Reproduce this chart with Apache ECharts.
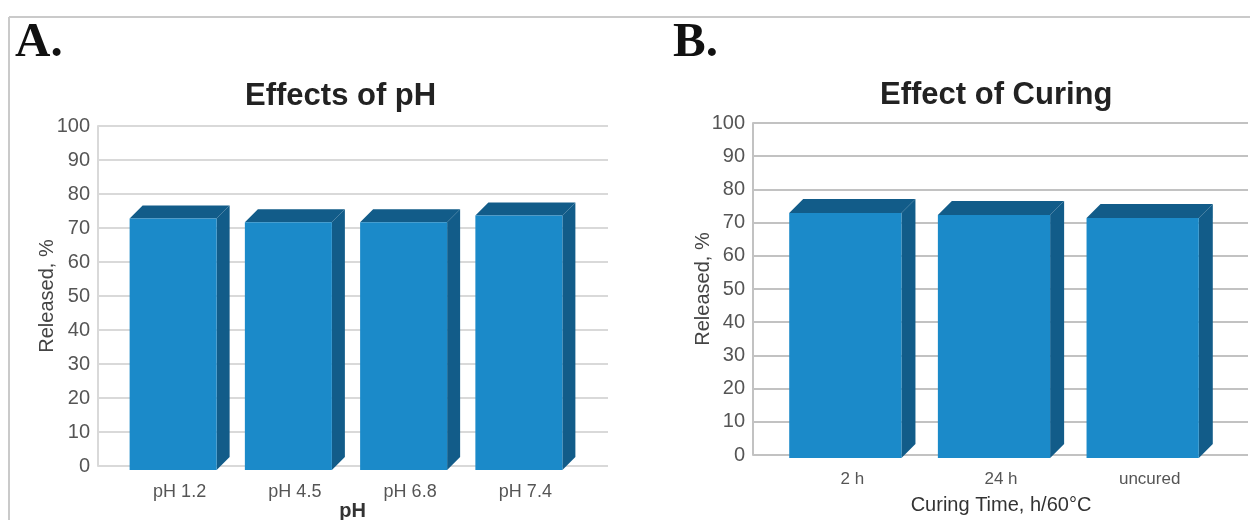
<!DOCTYPE html>
<html>
<head>
<meta charset="utf-8">
<title>Effects of pH / Effect of Curing</title>
<script src="https://cdn.jsdelivr.net/npm/echarts@6/dist/echarts.min.js"></script>
<style>
  html, body { margin: 0; padding: 0; background: #fff; }
  #chart { width: 1250px; height: 520px; }
</style>
</head>
<body>
<div id="chart"></div>
<script>
// panel A data
const phCategories = ['pH 1.2', 'pH 4.5', 'pH 6.8', 'pH 7.4']
const phReleased = [72.8, 71.7, 71.7, 73.7]
// panel B data
const curingCategories = ['2 h', '24 h', 'uncured']
const curingReleased = [72.9, 72.3, 71.4]
// shared y scale
const yMin = 0
const yMax = 100
const yStep = 10

const FONT = '"Liberation Sans", Arial, Helvetica, sans-serif'
const SERIF = '"Liberation Serif", "Times New Roman", serif'
const FRONT = '#1b8ac9'
const DARK = '#125c89'

// fake 3D bar: front face + top face + side face
function makeBar3D(depth, drop) {
  return function (params, api) {
    const top = api.coord([api.value(0), api.value(1)])
    const base = api.coord([api.value(0), 0])
    const band = api.size([1, 0])[0]
    const fw = band * 0.755
    const x0 = top[0] - (fw + depth) / 2
    const x1 = x0 + fw
    const yt = top[1]
    const yb = base[1] + drop
    return {
      type: 'group',
      children: [
        {
          type: 'polygon',
          shape: { points: [[x0, yt], [x0 + depth, yt - depth], [x1 + depth, yt - depth], [x1, yt]] },
          style: { fill: DARK }
        },
        {
          type: 'polygon',
          shape: { points: [[x1, yt], [x1 + depth, yt - depth], [x1 + depth, yb - depth], [x1, yb]] },
          style: { fill: DARK }
        },
        {
          type: 'rect',
          shape: { x: x0, y: yt, width: fw, height: yb - yt },
          style: { fill: FRONT }
        }
      ]
    }
  }
}

function bgYAxis(gridIndex, lineColor, nameGap) {
  return {
    gridIndex: gridIndex,
    type: 'value',
    min: yMin,
    max: yMax,
    interval: yStep,
    name: 'Released, %',
    nameLocation: 'middle',
    nameGap: nameGap,
    nameMoveOverlap: false,
    nameTextStyle: { fontFamily: FONT, fontSize: 20, color: '#444' },
    axisLine: { show: true, lineStyle: { color: lineColor, width: 2 }},
    axisTick: { show: false },
    axisLabel: { fontFamily: FONT, fontSize: 20, color: '#555', margin: 8 },
    splitLine: { lineStyle: { color: lineColor, width: 2 }}
  }
}

const chart = echarts.init(document.getElementById('chart'))

const option = {
  backgroundColor: '#fff',
  animation: false,
  title: [
    { text: 'A.', left: 15, top: 19, padding: 0, textStyle: { fontFamily: SERIF, fontSize: 49, fontWeight: 'bold', color: '#111' }},
    { text: 'B.', left: 673, top: 19, padding: 0, textStyle: { fontFamily: SERIF, fontSize: 49, fontWeight: 'bold', color: '#111' }},
    { text: 'Effects of pH', left: 245, top: 81, padding: 0, textStyle: { fontFamily: FONT, fontSize: 31, fontWeight: 'bold', color: '#222' }},
    { text: 'Effect of Curing', left: 880, top: 80, padding: 0, textStyle: { fontFamily: FONT, fontSize: 31, fontWeight: 'bold', color: '#222' }}
  ],
  graphic: [
    { type: 'line', shape: { x1: 9, y1: 17, x2: 1250, y2: 17 }, style: { stroke: '#cacaca', lineWidth: 2 }},
    { type: 'line', shape: { x1: 9, y1: 17, x2: 9, y2: 520 }, style: { stroke: '#cacaca', lineWidth: 2 }}
  ],
  grid: [
    { left: 98, top: 126, width: 510, height: 340, outerBoundsMode: 'none' }, // A background
    { left: 122, top: 126, width: 461, height: 340, outerBoundsMode: 'none' }, // A bars
    { left: 753, top: 123, width: 495, height: 332, outerBoundsMode: 'none' }, // B background
    { left: 778, top: 123, width: 446, height: 332, outerBoundsMode: 'none' } // B bars
  ],
  xAxis: [
    { gridIndex: 0, type: 'value', show: false },
    {
      gridIndex: 1,
      type: 'category',
      data: phCategories,
      name: 'pH',
      nameLocation: 'middle',
      nameGap: 35,
      nameMoveOverlap: false,
      nameTextStyle: { fontFamily: FONT, fontSize: 20, fontWeight: 'bold', color: '#333' },
      axisLine: { show: false },
      axisTick: { show: false },
      axisLabel: { fontFamily: FONT, fontSize: 18, color: '#555', margin: 17 }
    },
    { gridIndex: 2, type: 'value', show: false },
    {
      gridIndex: 3,
      type: 'category',
      data: curingCategories,
      name: 'Curing Time, h/60°C',
      nameLocation: 'middle',
      nameGap: 40,
      nameMoveOverlap: false,
      nameTextStyle: { fontFamily: FONT, fontSize: 20, color: '#333' },
      axisLine: { show: false },
      axisTick: { show: false },
      axisLabel: { fontFamily: FONT, fontSize: 17, color: '#555', margin: 16 }
    }
  ],
  yAxis: [
    bgYAxis(0, '#d9d9d9', 41),
    { gridIndex: 1, type: 'value', min: yMin, max: yMax, show: false },
    bgYAxis(2, '#c2c2c2', 40),
    { gridIndex: 3, type: 'value', min: yMin, max: yMax, show: false }
  ],
  series: [
    {
      type: 'custom',
      xAxisIndex: 1,
      yAxisIndex: 1,
      renderItem: makeBar3D(13, 4),
      encode: { x: 0, y: 1 },
      data: phReleased.map((v, i) => [i, v])
    },
    {
      type: 'custom',
      xAxisIndex: 3,
      yAxisIndex: 3,
      renderItem: makeBar3D(14, 3),
      encode: { x: 0, y: 1 },
      data: curingReleased.map((v, i) => [i, v])
    }
  ]
}

chart.setOption(option)
</script>
</body>
</html>
